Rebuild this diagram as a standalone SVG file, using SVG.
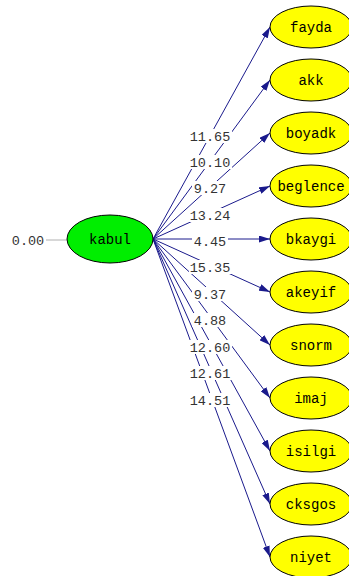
<svg xmlns="http://www.w3.org/2000/svg" width="349" height="576" viewBox="0 0 349 576">
<style>
.obs ellipse{fill:#ffff00;stroke:#000;stroke-width:1}
.lat ellipse{fill:#00ee00;stroke:#000;stroke-width:1}
.nt{font-family:"Liberation Mono","Courier New",monospace;font-size:14px;fill:#000;text-anchor:middle}
.lb{font-family:"Liberation Mono","Courier New",monospace;font-size:13.5px;fill:#333;text-anchor:middle}
.cn line{stroke:#1a1a8c;stroke-width:1;marker-end:url(#ah)}
.bg{fill:#fff}
</style>
<defs>
<marker id="ah" markerUnits="userSpaceOnUse" markerWidth="11" markerHeight="7" refX="11" refY="3.5" orient="auto">
<path d="M0,0 L11,3.5 L0,7 z" fill="#1a1a8c"/>
</marker>
</defs>
<rect width="349" height="576" fill="#fff"/>
<g id="connectors" class="cn">
<line x1="153" y1="239" x2="270" y2="27"/>
<line x1="153" y1="239" x2="270" y2="80"/>
<line x1="153" y1="239" x2="270" y2="133"/>
<line x1="153" y1="239" x2="270" y2="186"/>
<line x1="153" y1="239" x2="270" y2="239"/>
<line x1="153" y1="239" x2="270" y2="292"/>
<line x1="153" y1="239" x2="270" y2="345"/>
<line x1="153" y1="239" x2="270" y2="398"/>
<line x1="153" y1="239" x2="270" y2="451"/>
<line x1="153" y1="239" x2="270" y2="504"/>
<line x1="153" y1="239" x2="270" y2="557"/>
<line x1="46" y1="240" x2="67" y2="240" style="stroke:#b0b0b0;marker-end:none"/>
</g>
<g id="labels">
<rect class="bg" x="189" y="129" width="43" height="14"/><text class="lb" x="210" y="141">11.65</text>
<rect class="bg" x="189" y="155" width="43" height="14"/><text class="lb" x="210" y="167">10.10</text>
<rect class="bg" x="192" y="181" width="36" height="14"/><text class="lb" x="210" y="193">9.27</text>
<rect class="bg" x="189" y="208" width="43" height="14"/><text class="lb" x="210" y="220">13.24</text>
<rect class="bg" x="192" y="234" width="36" height="14"/><text class="lb" x="210" y="246">4.45</text>
<rect class="bg" x="189" y="260" width="43" height="14"/><text class="lb" x="210" y="272">15.35</text>
<rect class="bg" x="192" y="287" width="36" height="14"/><text class="lb" x="210" y="299">9.37</text>
<rect class="bg" x="192" y="313" width="36" height="14"/><text class="lb" x="210" y="325">4.88</text>
<rect class="bg" x="189" y="340" width="43" height="14"/><text class="lb" x="210" y="352">12.60</text>
<rect class="bg" x="189" y="366" width="43" height="14"/><text class="lb" x="210" y="378">12.61</text>
<rect class="bg" x="189" y="393" width="43" height="14"/><text class="lb" x="210" y="405">14.51</text>
<text class="lb" x="28" y="245">0.00</text>
</g>
<g id="kabul" class="lat"><ellipse cx="110" cy="239" rx="43" ry="24"/><text class="nt" x="110" y="244">kabul</text></g>
<g id="fayda" class="obs"><ellipse cx="311" cy="27" rx="41" ry="21"/><text class="nt" x="311" y="32">fayda</text></g>
<g id="akk" class="obs"><ellipse cx="311" cy="80" rx="41" ry="21"/><text class="nt" x="311" y="85">akk</text></g>
<g id="boyadk" class="obs"><ellipse cx="311" cy="133" rx="41" ry="21"/><text class="nt" x="311" y="138">boyadk</text></g>
<g id="beglence" class="obs"><ellipse cx="311" cy="186" rx="41" ry="21"/><text class="nt" x="311" y="191">beglence</text></g>
<g id="bkaygi" class="obs"><ellipse cx="311" cy="239" rx="41" ry="21"/><text class="nt" x="311" y="244">bkaygi</text></g>
<g id="akeyif" class="obs"><ellipse cx="311" cy="292" rx="41" ry="21"/><text class="nt" x="311" y="297">akeyif</text></g>
<g id="snorm" class="obs"><ellipse cx="311" cy="345" rx="41" ry="21"/><text class="nt" x="311" y="350">snorm</text></g>
<g id="imaj" class="obs"><ellipse cx="311" cy="398" rx="41" ry="21"/><text class="nt" x="311" y="403">imaj</text></g>
<g id="isilgi" class="obs"><ellipse cx="311" cy="451" rx="41" ry="21"/><text class="nt" x="311" y="456">isilgi</text></g>
<g id="cksgos" class="obs"><ellipse cx="311" cy="504" rx="41" ry="21"/><text class="nt" x="311" y="509">cksgos</text></g>
<g id="niyet" class="obs"><ellipse cx="311" cy="557" rx="41" ry="21"/><text class="nt" x="311" y="562">niyet</text></g>
</svg>
